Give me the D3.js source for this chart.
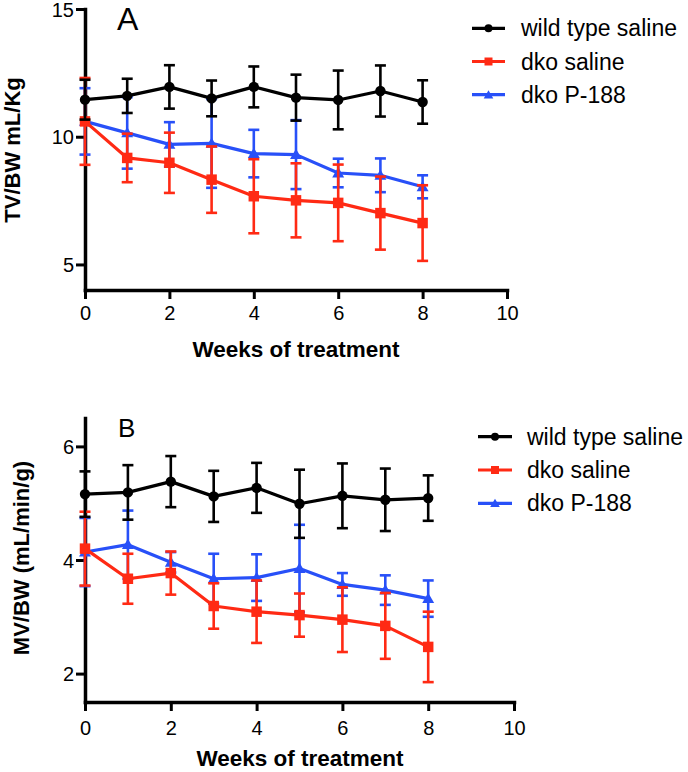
<!DOCTYPE html>
<html>
<head>
<meta charset="utf-8">
<script src="https://cdn.jsdelivr.net/npm/d3@7"></script>
<style>
  html, body { margin: 0; padding: 0; background: #fff; }
  svg { display: block; }
  text { font-family: "Liberation Sans", Arial, Helvetica, sans-serif; fill: #000; }
</style>
</head>
<body>
<svg id="chart" width="688" height="772"></svg>
<script>
// ---------- DATA ----------
const weeks = [0, 1, 2, 3, 4, 5, 6, 7, 8];
const seriesNames = ["wild type saline", "dko saline", "dko P-188"];

// Panel A: TV/BW mL/Kg
const tvWild      = [11.45, 11.6, 11.95, 11.5, 11.95, 11.53, 11.44, 11.79, 11.36];
const tvWildErr   = [0.78, 0.67, 0.85, 0.7, 0.8, 0.9, 1.15, 1.0, 0.85];
const tvDkoSal    = [10.6, 9.17, 8.98, 8.32, 7.67, 7.51, 7.41, 7.01, 6.62];
const tvDkoSalErr = [1.7, 0.95, 1.18, 1.3, 1.45, 1.45, 1.5, 1.43, 1.48];
const tvP188      = [10.6, 10.15, 9.7, 9.74, 9.34, 9.3, 8.58, 8.49, 8.04];
const tvP188Err   = [1.3, 1.4, 0.87, 1.74, 0.93, 1.35, 0.56, 0.66, 0.45];

// Panel B: MV/BW (mL/min/g)
const mvWild      = [5.16, 5.19, 5.38, 5.12, 5.27, 4.99, 5.13, 5.06, 5.09];
const mvWildErr   = [0.4, 0.48, 0.45, 0.45, 0.44, 0.6, 0.57, 0.55, 0.4];
const mvDkoSal    = [4.2, 3.67, 3.77, 3.19, 3.09, 3.03, 2.95, 2.84, 2.47];
const mvDkoSalErr = [0.65, 0.44, 0.38, 0.4, 0.55, 0.38, 0.57, 0.58, 0.62];
const mvP188      = [4.14, 4.27, 3.96, 3.67, 3.69, 3.85, 3.57, 3.47, 3.32];
const mvP188Err   = [0.6, 0.6, 0.18, 0.44, 0.41, 0.77, 0.2, 0.26, 0.32];

const xTicks = [0, 2, 4, 6, 8, 10];
const yTicksA = [5, 10, 15];
const yTicksB = [2, 4, 6];

// ---------- STYLE ----------
const colors = ["#000000", "#ff2a14", "#2850f8"];
const symbols = [d3.symbolCircle, d3.symbolSquare, d3.symbolTriangle];
const symSizes = [85, 110, 62];
const legSizes = [50, 64, 40];

const svg = d3.select("#chart");

function drawPanel(cfg) {
  const x = d3.scaleLinear().domain([0, 10]).range([cfg.left, cfg.right]);
  const y = d3.scaleLinear().domain(cfg.yDomain).range([cfg.bottom, cfg.top]);
  const g = svg.append("g");

  // axes
  const xAxis = g.append("g").attr("transform", `translate(0,${cfg.bottom})`)
    .call(d3.axisBottom(x).tickValues(xTicks).tickSize(9).tickSizeOuter(0).tickFormat(d3.format("d")));
  xAxis.selectAll("text").attr("y", cfg.xLabelOff).attr("dy", 0)
    .style("font-size", "20px");
  const yAxis = g.append("g").attr("transform", `translate(${cfg.left},0)`)
    .call(d3.axisLeft(y).tickValues(cfg.yTicks).tickSize(9).tickSizeOuter(0).tickFormat(d3.format("d")));
  yAxis.selectAll("text").attr("x", -11).attr("dy", "0.35em")
    .style("font-size", "20px");
  [xAxis, yAxis].forEach(a => {
    a.select(".domain").attr("stroke", "#000").attr("stroke-width", 3.5).attr("stroke-linecap", "square");
    a.selectAll(".tick line").attr("stroke", "#000").attr("stroke-width", 3);
    a.selectAll("text").attr("font-family", null).style("fill", "#000");
  });

  // series (blue bottom, then red, black on top)
  [2, 1, 0].forEach(i => {
    const vals = cfg.values[i], errs = cfg.errors[i];
    const sg = g.append("g");
    const pts = weeks.map((w, k) => ({ w, v: vals[k], e: errs[k] }));
    // error bars
    const eb = sg.selectAll(".eb").data(pts).enter().append("g")
      .attr("stroke", colors[i]).attr("stroke-width", 2.6).attr("fill", "none");
    eb.append("line").attr("x1", d => x(d.w)).attr("x2", d => x(d.w))
      .attr("y1", d => y(d.v + d.e)).attr("y2", d => y(d.v - d.e));
    eb.append("line").attr("x1", d => x(d.w) - 5.5).attr("x2", d => x(d.w) + 5.5)
      .attr("y1", d => y(d.v + d.e)).attr("y2", d => y(d.v + d.e));
    eb.append("line").attr("x1", d => x(d.w) - 5.5).attr("x2", d => x(d.w) + 5.5)
      .attr("y1", d => y(d.v - d.e)).attr("y2", d => y(d.v - d.e));
    // line
    sg.append("path").datum(pts)
      .attr("d", d3.line().x(d => x(d.w)).y(d => y(d.v)))
      .attr("fill", "none").attr("stroke", colors[i]).attr("stroke-width", 3.2)
      .attr("stroke-linejoin", "round");
    // markers
    sg.selectAll(".m").data(pts).enter().append("path")
      .attr("transform", d => `translate(${x(d.w)},${y(d.v) + (i === 2 ? 1 : 0)})`)
      .attr("d", d3.symbol().type(symbols[i]).size(symSizes[i]))
      .attr("fill", colors[i]);
  });

  // panel letter
  g.append("text").attr("x", cfg.letterX).attr("y", cfg.letterY)
    .style("font-size", cfg.letterSize + "px").text(cfg.letter);

  // axis titles
  g.append("text").attr("x", cfg.xTitleX).attr("y", cfg.xTitleY)
    .attr("text-anchor", "middle").style("font-size", "22.5px").style("font-weight", "bold")
    .text("Weeks of treatment");
  g.append("text")
    .attr("transform", `translate(${cfg.yTitleX},${cfg.yTitleY}) rotate(-90)`)
    .attr("text-anchor", "middle").style("font-size", "22px").style("font-weight", "bold")
    .text(cfg.yTitle);

  // legend
  seriesNames.forEach((name, i) => {
    const ly = cfg.legY[i];
    g.append("line").attr("x1", cfg.legX1).attr("x2", cfg.legX2)
      .attr("y1", ly).attr("y2", ly).attr("stroke", colors[i]).attr("stroke-width", 3.2);
    g.append("path")
      .attr("transform", `translate(${(cfg.legX1 + cfg.legX2) / 2},${ly + (i === 2 ? 1 : 0)})`)
      .attr("d", d3.symbol().type(symbols[i]).size(legSizes[i]))
      .attr("fill", colors[i]);
    g.append("text").attr("x", cfg.legTextX).attr("y", ly + 8)
      .style("font-size", "23px").text(name);
  });
}

drawPanel({
  left: 85, right: 507, top: 9, bottom: 290,
  yDomain: [4, 15], yTicks: yTicksA, xLabelOff: 30,
  values: [tvWild, tvDkoSal, tvP188], errors: [tvWildErr, tvDkoSalErr, tvP188Err],
  letter: "A", letterX: 117, letterY: 30, letterSize: 32,
  xTitleX: 296, xTitleY: 357, yTitleX: 20, yTitleY: 150, yTitle: "TV/BW mL/Kg",
  legX1: 472, legX2: 505, legTextX: 521, legY: [28.3, 61.5, 94.7]
});

drawPanel({
  left: 85, right: 514, top: 418, bottom: 702,
  yDomain: [1.5, 6.5], yTicks: yTicksB, xLabelOff: 33,
  values: [mvWild, mvDkoSal, mvP188], errors: [mvWildErr, mvDkoSalErr, mvP188Err],
  letter: "B", letterX: 118, letterY: 437, letterSize: 26,
  xTitleX: 300, xTitleY: 766, yTitleX: 29, yTitleY: 558, yTitle: "MV/BW (mL/min/g)",
  legX1: 478, legX2: 512, legTextX: 527, legY: [436.7, 470, 503.3]
});
</script>
</body>
</html>
